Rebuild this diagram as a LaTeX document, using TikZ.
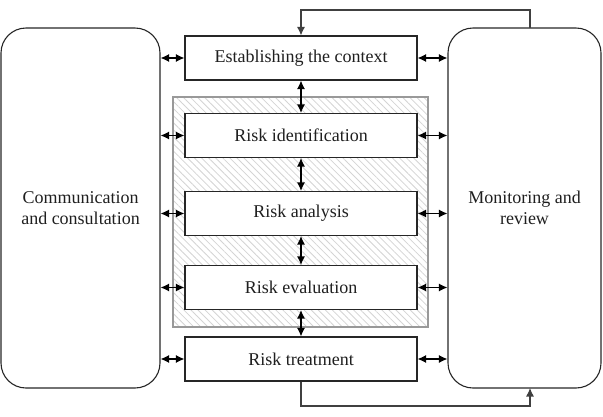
\documentclass[tikz,border=0pt]{standalone}
\usepackage{fontspec}
\setmainfont{Liberation Serif}
\usetikzlibrary{arrows.meta,patterns.meta}
\begin{document}
\begin{tikzpicture}[x=1pt,y=-1pt,
  every node/.style={font=\fontsize{18}{21.5}\selectfont, text=black!88},
  bigbox/.style={draw=black!85, line width=1.1pt, rounded corners=25pt, align=center, inner sep=0pt},
  stepbox/.style={draw=black!85, line width=1.1pt, minimum width=232pt, minimum height=44pt, inner sep=0pt, fill=white},
  link/.style={line width=1.3pt, black, {Latex[length=8.5pt,width=8pt]}-{Latex[length=8.5pt,width=8pt]}},
  fb/.style={line width=1.1pt, black!75, -{Latex[length=8.5pt,width=8pt]}}
]
\useasboundingbox (0,0) rectangle (603,416);
% hatched region
\fill[white] (173,97) rectangle (428,327);
\fill[pattern={Lines[angle=-45,distance=5pt,line width=0.8pt]}, pattern color=black!17] (173,97) rectangle (428,327);
\draw[black!40, line width=1.2pt] (173,97) rectangle (428,327);

\node[bigbox, minimum width=159pt, minimum height=360pt] (comm) at (80.5,208) {Communication\\and consultation};
\node[bigbox, minimum width=153pt, minimum height=360pt] (mon) at (524.5,208) {Monitoring and\\review};

\node[stepbox] (est) at (301,58) {Establishing the context};
\node[stepbox] (ident) at (301,135.5) {Risk identification};
\node[stepbox] (anal) at (301,213.5) {Risk analysis};
\node[stepbox] (eval) at (301,287.5) {Risk evaluation};
\node[stepbox] (treat) at (301,359) {Risk treatment};

\foreach \n in {est,ident,anal,eval,treat}{
  \draw[link] (\n.west -| comm.east) -- (\n.west);
  \draw[link] (\n.east) -- (\n.east -| mon.west);
}
\draw[link] (est.south) -- (ident.north);
\draw[link] (ident.south) -- (anal.north);
\draw[link] (anal.south) -- (eval.north);
\draw[link] (eval.south) -- (treat.north);

\coordinate (ftop) at (530,28);
\coordinate (ftopc) at (530,10);
\coordinate (fbot) at (530,406);
\coordinate (fbotend) at (530,388);
\draw[fb] (ftop) -- (ftopc) -| (est.north);
\draw[fb] (treat.south) |- (fbot) -- (fbotend);
\end{tikzpicture}
\end{document}
